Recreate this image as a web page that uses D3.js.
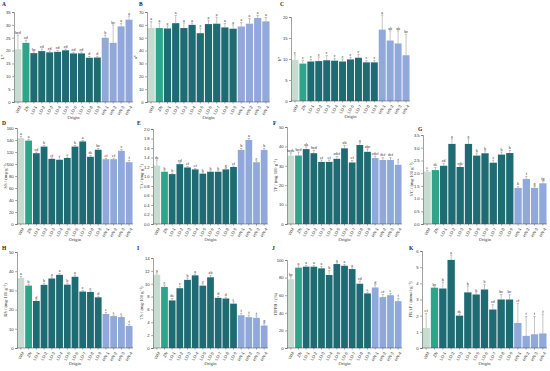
<!DOCTYPE html>
<html>
<head>
<meta charset="utf-8">
<script src="https://cdn.jsdelivr.net/npm/d3@7/dist/d3.min.js"></script>
<style>
  html, body { margin: 0; padding: 0; background: #fff; }
  svg { display: block; font-family: "Liberation Serif", "Times New Roman", serif; }
</style>
</head>
<body>
<svg id="fig" width="550" height="371"></svg>
<script>
// --- DATA --------------------------------------------------------------------
const cats = ['WM', 'ZN', 'LD-1', 'LD-2', 'LD-3', 'LD-4', 'LD-5', 'LD-6', 'LD-7', 'LD-8', 'LD-9', 'HN-1', 'HN-2', 'HN-3', 'HN-4'];
const groups = ['WM', 'ZN', 'LD', 'HN'];

// A  L*
const lMean = [20.5, 23.0, 19.0, 19.8, 19.3, 19.5, 20.1, 18.9, 18.9, 17.2, 17.3, 25.0, 23.0, 29.4, 32.0];
const lSd   = [5.5, 1.0, 0.5, 0.8, 0.5, 0.6, 0.5, 0.5, 0.5, 0.5, 0.5, 1.0, 7.0, 1.2, 1.5];
const lSig  = ['bcd', 'cd', 'bc', 'cd', 'cd', 'cd', 'cd', 'cd', 'cd', 'd', 'd', 'b', 'bc', 'a', 'a'];
// B  a*
const aMean = [57.5, 57.5, 57.2, 61.3, 57.5, 60.0, 53.5, 60.6, 60.9, 58.0, 57.0, 58.7, 60.9, 65.3, 62.7];
const aSd   = [5.0, 4.0, 2.0, 6.0, 4.0, 1.5, 4.0, 3.0, 5.0, 3.0, 3.0, 3.0, 4.0, 2.0, 3.0];
const aSig  = ['a', 'a', 'a', 'a', 'a', 'a', 'a', 'a', 'a', 'a', 'a', 'a', 'a', 'a', 'a'];
// C  b*
const bMean = [9.8, 8.9, 9.4, 9.5, 9.7, 9.6, 9.4, 9.9, 10.3, 9.2, 9.2, 17.0, 14.4, 13.7, 10.9];
const bSd   = [1.2, 0.8, 0.5, 1.0, 1.1, 0.5, 0.6, 0.5, 0.8, 0.4, 0.4, 3.5, 2.3, 3.0, 5.0];
const bSig  = ['c', 'c', 'c', 'c', 'c', 'c', 'c', 'c', 'c', 'c', 'c', 'a', 'ab', 'ab', 'bc'];
// D  SS
const ssMean = [143, 139, 118, 129, 108.6, 107, 110, 129, 137.6, 112, 123.7, 108, 108, 122, 103];
const ssSd   = [3, 2, 2, 2, 1.5, 1, 1.5, 2, 1.5, 2, 2, 1.5, 1.5, 2, 3];
const ssSig  = ['a', 'a', 'cd', 'b', 'ef', 'f', 'e', 'b', 'a', 'de', 'bc', 'ef', 'ef', 'c', 'f'];
// E  TA
const taMean = [1.23, 1.10, 1.05, 1.26, 1.19, 1.15, 1.06, 1.10, 1.10, 1.15, 1.20, 1.56, 1.77, 1.30, 1.56];
const taSd   = [0.12, 0.02, 0.02, 0.03, 0.02, 0.02, 0.02, 0.02, 0.02, 0.02, 0.02, 0.03, 0.03, 0.03, 0.03];
const taSig  = ['de', 'h', 'h', 'cd', 'ef', 'ef', 'h', 'h', 'h', 'g', 'ef', 'b', 'a', 'c', 'b'];
// F  TP
const tpMean = [35.2, 35.3, 38.6, 36.5, 32.0, 32.0, 33.6, 39.0, 31.7, 40.7, 37.2, 34.0, 33.0, 33.0, 30.5];
const tpSd   = [1.5, 1.8, 1.2, 1.5, 1.0, 1.0, 1.2, 1.5, 1.0, 1.2, 1.5, 1.0, 1.2, 1.2, 1.5];
const tpSig  = ['bcde', 'bcd', 'ab', 'bcd', 'ef', 'ef', 'cdef', 'ab', 'ef', 'a', 'abc', 'cdef', 'def', 'def', 'f'];
// G  VC
const vcMean = [2.06, 2.12, 2.29, 3.15, 2.24, 3.15, 2.69, 2.78, 2.41, 2.73, 2.79, 1.42, 1.77, 1.42, 1.60];
const vcSd   = [0.05, 0.1, 0.1, 0.2, 0.05, 0.2, 0.1, 0.1, 0.1, 0.1, 0.1, 0.05, 0.1, 0.05, 0.1];
const vcSig  = ['e', 'de', 'cd', 'a', 'cde', 'a', 'b', 'b', 'c', 'b', 'b', 'h', 'f', 'g', 'fg'];
// H  RS
const rsMean = [36.4, 32.5, 24.5, 32.9, 36.2, 38.1, 33.0, 37.1, 29.4, 29.2, 26.4, 17.7, 16.6, 16.1, 11.5];
const rsSd   = [0.8, 0.8, 0.6, 0.8, 0.8, 0.6, 0.8, 0.8, 0.6, 0.6, 0.6, 0.8, 0.6, 0.6, 0.8];
const rsSig  = ['a', 'b', 'd', 'b', 'a', 'a', 'b', 'a', 'c', 'c', 'd', 'e', 'e', 'e', 'f'];
// I  TS
const tsMean = [11.4, 9.5, 7.4, 9.3, 10.6, 11.3, 9.7, 11.0, 7.8, 7.7, 6.9, 5.1, 4.8, 4.7, 3.5];
const tsSd   = [0.3, 0.3, 0.3, 0.3, 0.3, 0.2, 0.3, 0.3, 0.2, 0.2, 0.3, 0.3, 0.3, 0.3, 0.3];
const tsSig  = ['a', 'c', 'de', 'c', 'b', 'a', 'c', 'ab', 'd', 'd', 'e', 'f', 'f', 'f', 'g'];
// J  DPPH
const dpMean = [78.0, 91.3, 92.4, 92.4, 90.5, 82.9, 95.4, 93.5, 89.7, 73.0, 62.0, 68.8, 57.8, 60.0, 53.2];
const dpSd   = [3, 2, 1.5, 1.5, 2, 5, 1.5, 1.5, 1.5, 3, 1.5, 3, 3, 2, 3];
const dpSig  = ['bc', 'a', 'a', 'a', 'a', 'b', 'a', 'a', 'a', 'cd', 'e', 'd', 'ef', 'e', 'f'];
// K  FRAP
const frMean = [1.24, 3.73, 3.68, 5.45, 2.00, 3.44, 3.31, 3.62, 2.38, 3.00, 3.00, 1.55, 0.75, 0.85, 0.90];
const frSd   = [0.9, 0.05, 0.4, 0.3, 0.1, 0.4, 0.1, 0.3, 0.3, 0.3, 0.3, 1.2, 1.2, 1.1, 1.2];
const frSig  = ['ef', 'bc', 'b', 'a', 'de', 'b', 'b', 'b', 'cd', 'bc', 'bc', 'ef', 'f', 'f', 'f'];

// --- LAYOUT ------------------------------------------------------------------
const COLORS = ['#c6dcd0', '#2ea48a', '#1e6b73', '#91a8db'];
const FONT_TICK = 4.2;
const FONT_LAB  = 4.6;

const panels = [
  { id: 'A', mean: lMean,  sd: lSd,  sig: lSig,  yLab: 'L*', max: 35,  step: 5,   x0: 14,  x1: 133, y0: 102, y1: 12,  lx: 2,   ly: 6 },
  { id: 'B', mean: aMean,  sd: aSd,  sig: aSig,  yLab: 'a*', max: 70,  step: 10,  x0: 147, x1: 270, y0: 102, y1: 12,  lx: 139, ly: 6 },
  { id: 'C', mean: bMean,  sd: bSd,  sig: bSig,  yLab: 'b*', max: 20,  step: 5,   x0: 291, x1: 410, y0: 101, y1: 17,  lx: 280, ly: 6 },
  { id: 'D', mean: ssMean, sd: ssSd, sig: ssSig, yLab: 'SS / (mg·g⁻¹)', max: 160, step: 20, x0: 17, x1: 133, y0: 224, y1: 128, lx: 2, ly: 125 },
  { id: 'E', mean: taMean, sd: taSd, sig: taSig, yLab: 'TA / (mg·g⁻¹)', max: 2.0, step: 0.2, x0: 153, x1: 268, y0: 224, y1: 129, lx: 137, ly: 125 },
  { id: 'F', mean: tpMean, sd: tpSd, sig: tpSig, yLab: 'TP / (mg·100 g⁻¹)', max: 50, step: 10, x0: 287, x1: 402, y0: 224, y1: 127, lx: 273, ly: 125 },
  { id: 'G', mean: vcMean, sd: vcSd, sig: vcSig, yLab: 'VC / (mg·100 g⁻¹)', max: 3.5, step: 0.5, x0: 423, x1: 547, y0: 224, y1: 135, lx: 418, ly: 131 },
  { id: 'H', mean: rsMean, sd: rsSd, sig: rsSig, yLab: 'RS / (mg·100 g⁻¹)', max: 50, step: 10, x0: 17, x1: 133, y0: 348, y1: 252, lx: 2, ly: 250 },
  { id: 'I', mean: tsMean, sd: tsSd, sig: tsSig, yLab: 'TS / (mg·100 g⁻¹)', max: 14, step: 2, x0: 153, x1: 268, y0: 348, y1: 258, lx: 137, ly: 250 },
  { id: 'J', mean: dpMean, sd: dpSd, sig: dpSig, yLab: 'DPPH / (%)', max: 100, step: 20, x0: 287, x1: 402, y0: 348, y1: 260, lx: 272, ly: 250 },
  { id: 'K', mean: frMean, sd: frSd, sig: frSig, yLab: 'FRAP / (mmol·g⁻¹)', max: 6, step: 1, x0: 422, x1: 547, y0: 348, y1: 251, lx: 409, ly: 250 },
];

const svg = d3.select('#fig');
const color = d3.scaleOrdinal(groups, COLORS);
const groupOf = c => c.split('-')[0];

panels.forEach(p => {
  const g = svg.append('g').attr('class', 'panel-' + p.id);

  const x = d3.scaleBand().domain(cats).range([p.x0, p.x1]).paddingInner(0.12).paddingOuter(0.06);
  const y = d3.scaleLinear().domain([0, p.max]).range([p.y0, p.y1]);

  // bars
  g.append('g').selectAll('rect')
    .data(cats)
    .join('rect')
    .attr('x', d => x(d))
    .attr('width', x.bandwidth())
    .attr('y', (d, i) => y(p.mean[i]))
    .attr('height', (d, i) => y(0) - y(p.mean[i]))
    .attr('fill', d => color(groupOf(d)));

  // error bars (upper half)
  const eb = g.append('g').attr('stroke', '#8a8a8a').attr('stroke-width', 0.5);
  cats.forEach((c, i) => {
    const cx = x(c) + x.bandwidth() / 2;
    const top = y(p.mean[i] + p.sd[i]);
    eb.append('line').attr('x1', cx).attr('x2', cx).attr('y1', y(p.mean[i])).attr('y2', top);
    eb.append('line').attr('x1', cx - 1.2).attr('x2', cx + 1.2).attr('y1', top).attr('y2', top);
  });

  // significance letters
  g.append('g').selectAll('text')
    .data(cats)
    .join('text')
    .attr('x', d => x(d) + x.bandwidth() / 2)
    .attr('y', (d, i) => y(p.mean[i] + p.sd[i]) - 1.2)
    .attr('text-anchor', 'middle')
    .attr('font-size', 4)
    .attr('fill', '#222')
    .text((d, i) => p.sig[i]);

  // y axis
  const fmt = p.step < 1 ? d3.format('.1f') : d3.format('d');
  const yAx = g.append('g')
    .attr('transform', `translate(${p.x0},0)`)
    .call(d3.axisLeft(y).tickValues(d3.range(0, p.max + p.step / 2, p.step)).tickSize(1.8).tickPadding(1.5).tickFormat(fmt));
  yAx.selectAll('text').attr('font-size', FONT_TICK).attr('font-family', null).attr('fill', '#333');
  yAx.selectAll('line, path').attr('stroke', '#444').attr('stroke-width', 0.5);

  // x axis
  const xAx = g.append('g')
    .attr('transform', `translate(0,${p.y0})`)
    .call(d3.axisBottom(x).tickSize(1.5).tickSizeOuter(0).tickPadding(1));
  xAx.select('.domain').attr('d', `M${p.x0},0H${p.x1}`);
  xAx.selectAll('line, path').attr('stroke', '#444').attr('stroke-width', 0.5);
  xAx.selectAll('text')
    .attr('font-size', FONT_TICK).attr('font-family', null).attr('fill', '#333')
    .attr('text-anchor', 'end')
    .attr('dy', '0.35em')
    .attr('transform', 'translate(0,3) rotate(-60)');

  // axis titles
  g.append('text')
    .attr('x', (p.x0 + p.x1) / 2).attr('y', p.y0 + 17)
    .attr('text-anchor', 'middle').attr('font-size', FONT_LAB).attr('fill', '#333')
    .text('Origin');
  g.append('text')
    .attr('transform', `translate(${p.x0 - 10},${(p.y0 + p.y1) / 2}) rotate(-90)`)
    .attr('text-anchor', 'middle').attr('font-size', FONT_LAB).attr('fill', '#333')
    .text(p.yLab);

  // panel letter
  g.append('text')
    .attr('x', p.lx).attr('y', p.ly)
    .attr('font-size', 5.5).attr('font-weight', 700).attr('fill', '#222')
    .text(p.id);
});
</script>
</body>
</html>
